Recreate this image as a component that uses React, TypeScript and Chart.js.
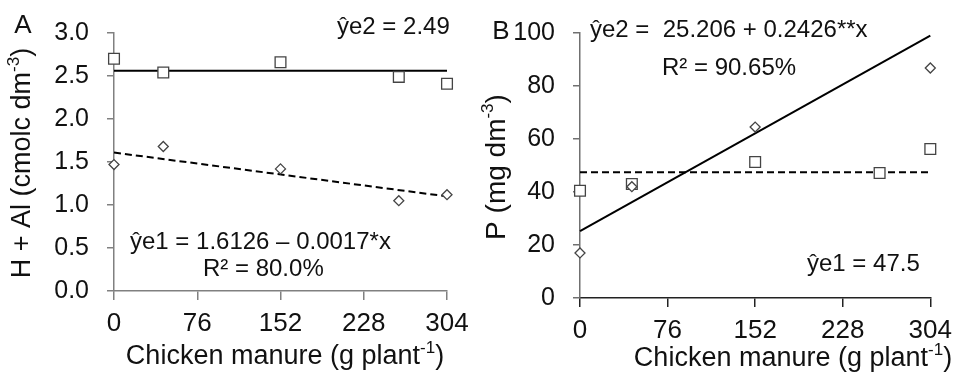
import React, { useEffect, useRef } from "react";
import { Chart, registerables } from "chart.js";
Chart.register(...registerables);

const FONT = "'Liberation Sans', Arial, sans-serif";

// Panel A: H + Al
const doseA = [0, 45, 152, 260, 304];
const hAlSquares = [2.7, 2.54, 2.66, 2.49, 2.41];
const hAlDiamonds = [1.47, 1.68, 1.42, 1.05, 1.12];
const fitX = [0, 304];
const hAlFit2 = [2.56, 2.56];
const hAlFit1 = [1.61, 1.1];

// Panel B: P
const doseBSquares = [0, 45, 152, 260, 304];
const pSquares = [40.5, 43, 51.3, 47.2, 56.2];
const doseBDiamonds = [0, 45, 152, 304];
const pDiamonds = [17, 42, 64.5, 86.8];
const pFit2 = [25.2, 99];
const pFit1 = [47.5, 47.5];

const xMax = 304;
const xStep = 76;

type Seg = { t: string; sup?: boolean };
type TextItem = { segs: Seg[]; x: number; y: number; size: number; align: "left" | "center"; rotate?: boolean };

function drawRich(ctx: CanvasRenderingContext2D, it: TextItem) {
  ctx.save();
  ctx.translate(it.x, it.y);
  if (it.rotate) ctx.rotate(-Math.PI / 2);
  const supSize = Math.round(it.size * 0.62);
  let total = 0;
  const widths = it.segs.map((s) => {
    ctx.font = `${s.sup ? supSize : it.size}px ${FONT}`;
    const w = ctx.measureText(s.t).width;
    total += w;
    return w;
  });
  let cx = it.align === "center" ? -total / 2 : 0;
  ctx.textBaseline = "middle";
  ctx.textAlign = "left";
  ctx.fillStyle = "#111";
  it.segs.forEach((s, i) => {
    ctx.font = `${s.sup ? supSize : it.size}px ${FONT}`;
    ctx.fillText(s.t, cx, s.sup ? -it.size * 0.32 : 0);
    cx += widths[i];
  });
  ctx.restore();
}

function textPlugin(items: TextItem[]) {
  return {
    id: "richText",
    afterDraw(chart: any) {
      const ctx = chart.ctx as CanvasRenderingContext2D;
      items.forEach((it) => drawRich(ctx, it));
    },
  };
}

function pts(xs: number[], ys: number[]) {
  return xs.map((x, i) => ({ x, y: ys[i] }));
}

function makeConfig(p: {
  sq: { x: number; y: number }[];
  di: { x: number; y: number }[];
  solid: { x: number; y: number }[];
  dashed: { x: number; y: number }[];
  yMin: number;
  yMax: number;
  yStep: number;
  yDecimals: number;
  area: { top: number; right: number; yWidth: number; xHeight: number };
  xAxisColor: string;
  yAxisColor: string;
  texts: TextItem[];
}) {
  return {
    type: "scatter",
    data: {
      datasets: [
        {
          data: p.di,
          pointStyle: "rectRot",
          pointRadius: 5,
          borderColor: "#444",
          backgroundColor: "#fff",
          borderWidth: 1.3,
          showLine: false,
          order: 0,
          clip: false,
        },
        {
          data: p.sq,
          pointStyle: "rect",
          pointRadius: 7.6,
          borderColor: "#444",
          backgroundColor: "#fff",
          borderWidth: 1.3,
          showLine: false,
          order: 1,
          clip: false,
        },
        {
          data: p.solid,
          showLine: true,
          pointRadius: 0,
          borderColor: "#000",
          borderWidth: 2,
          order: 2,
          clip: false,
        },
        {
          data: p.dashed,
          showLine: true,
          pointRadius: 0,
          borderColor: "#000",
          borderWidth: 2,
          borderDash: [7, 4],
          order: 3,
          clip: false,
        },
      ],
    },
    options: {
      responsive: false,
      animation: false,
      events: [],
      layout: { padding: { top: p.area.top, right: p.area.right, bottom: 0, left: 0 } },
      plugins: { legend: { display: false }, tooltip: { enabled: false }, title: { display: false } },
      scales: {
        x: {
          type: "linear",
          min: 0,
          max: xMax,
          afterFit: (s: any) => {
            s.height = p.area.xHeight;
          },
          ticks: {
            stepSize: xStep,
            font: { family: FONT, size: 26 },
            color: "#111",
            padding: 8,
            maxRotation: 0,
          },
          grid: {
            display: true,
            drawOnChartArea: false,
            drawTicks: true,
            tickLength: 9,
            color: p.xAxisColor,
            lineWidth: 1.5,
          },
          border: { display: true, color: p.xAxisColor, width: 1.5 },
        },
        y: {
          type: "linear",
          min: p.yMin,
          max: p.yMax,
          afterFit: (s: any) => {
            s.width = p.area.yWidth;
          },
          ticks: {
            stepSize: p.yStep,
            font: { family: FONT, size: 25 },
            color: "#111",
            padding: 18,
            callback: (v: any) => Number(v).toFixed(p.yDecimals),
          },
          grid: {
            display: true,
            drawOnChartArea: false,
            drawTicks: true,
            tickLength: 7,
            color: p.yAxisColor,
            lineWidth: 1.5,
          },
          border: { display: true, color: p.yAxisColor, width: 1.5 },
        },
      },
    },
    plugins: [textPlugin(p.texts)],
  } as any;
}

export default function App() {
  const refA = useRef<HTMLCanvasElement>(null);
  const refB = useRef<HTMLCanvasElement>(null);

  useEffect(() => {
    const cfgA = makeConfig({
      sq: pts(doseA, hAlSquares),
      di: pts(doseA, hAlDiamonds),
      solid: pts(fitX, hAlFit2),
      dashed: pts(fitX, hAlFit1),
      yMin: 0,
      yMax: 3,
      yStep: 0.5,
      yDecimals: 1,
      area: { top: 26, right: 33, yWidth: 114, xHeight: 83 },
      xAxisColor: "#808080",
      yAxisColor: "#808080",
      texts: [
        { segs: [{ t: "A" }], x: 23, y: 26, size: 26, align: "center" },
        { segs: [{ t: "ŷe2 = 2.49" }], x: 337, y: 27, size: 24, align: "left" },
        { segs: [{ t: "ŷe1 = 1.6126 – 0.0017*x" }], x: 130, y: 242, size: 24, align: "left" },
        { segs: [{ t: "R² = 80.0%" }], x: 203, y: 269, size: 24, align: "left" },
        {
          segs: [{ t: "Chicken manure (g plant" }, { t: "-1", sup: true }, { t: ")" }],
          x: 285,
          y: 357,
          size: 27,
          align: "center",
        },
        {
          segs: [{ t: "H + Al (cmolc dm" }, { t: "-3", sup: true }, { t: ")" }],
          x: 23,
          y: 163,
          size: 27,
          align: "center",
          rotate: true,
        },
      ],
    });
    const cfgB = makeConfig({
      sq: pts(doseBSquares, pSquares),
      di: pts(doseBDiamonds, pDiamonds),
      solid: pts(fitX, pFit2),
      dashed: pts(fitX, pFit1),
      yMin: 0,
      yMax: 100,
      yStep: 20,
      yDecimals: 0,
      area: { top: 33, right: 23, yWidth: 100, xHeight: 76 },
      xAxisColor: "#222",
      yAxisColor: "#707070",
      texts: [
        { segs: [{ t: "B" }], x: 21, y: 32, size: 26, align: "center" },
        { segs: [{ t: "ŷe2 =  25.206 + 0.2426**x" }], x: 110, y: 30, size: 24, align: "left" },
        { segs: [{ t: "R² = 90.65%" }], x: 182, y: 68, size: 24, align: "left" },
        { segs: [{ t: "ŷe1 = 47.5" }], x: 327, y: 264, size: 24, align: "left" },
        {
          segs: [{ t: "Chicken manure (g plant" }, { t: "-1", sup: true }, { t: ")" }],
          x: 313,
          y: 359,
          size: 27,
          align: "center",
        },
        {
          segs: [{ t: "P (mg dm" }, { t: "-3", sup: true }, { t: ")" }],
          x: 17,
          y: 167,
          size: 28,
          align: "center",
          rotate: true,
        },
      ],
    });
    const a = new Chart(refA.current as HTMLCanvasElement, cfgA);
    const b = new Chart(refB.current as HTMLCanvasElement, cfgB);
    return () => {
      a.destroy();
      b.destroy();
    };
  }, []);

  return (
    <div
      style={{
        position: "absolute",
        left: 0,
        top: 0,
        width: 960,
        height: 374,
        display: "flex",
        background: "#fff",
      }}
    >
      <canvas ref={refA} width={480} height={374} style={{ display: "block", width: 480, height: 374 }} />
      <canvas ref={refB} width={480} height={374} style={{ display: "block", width: 480, height: 374 }} />
    </div>
  );
}
